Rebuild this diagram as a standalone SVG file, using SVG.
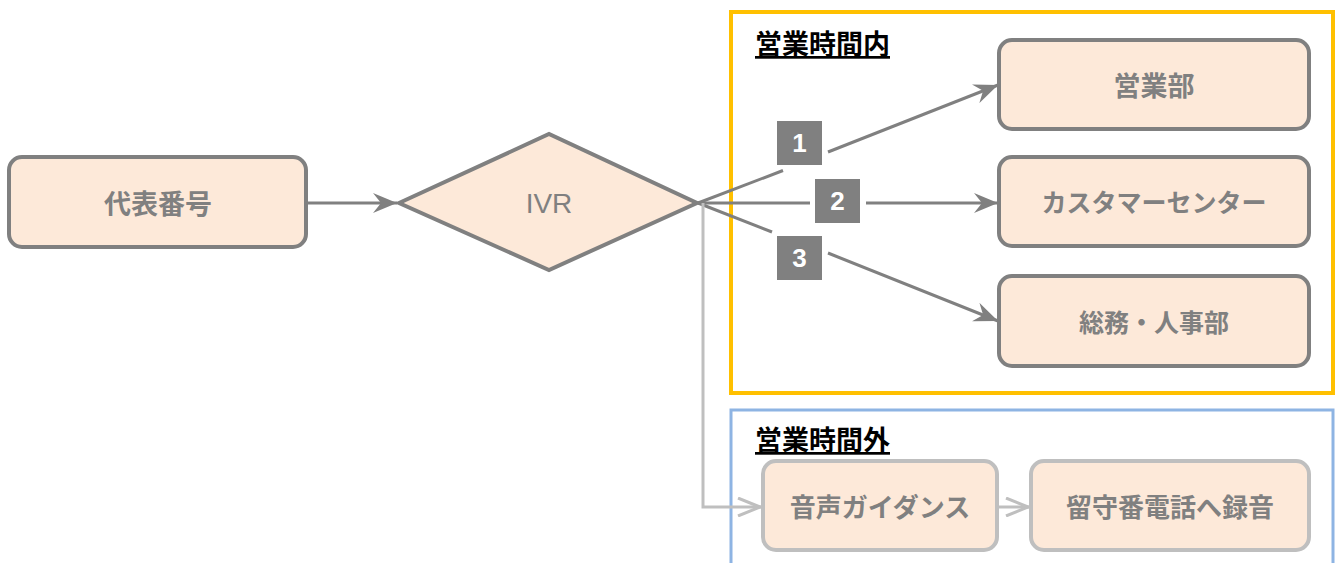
<svg xmlns="http://www.w3.org/2000/svg" width="1340" height="563" viewBox="0 0 1340 563">
<style>
.node{fill:#FDE9D9;stroke:#808080;stroke-width:4}
.node2{fill:#FDE9D9;stroke:#BFBFBF;stroke-width:4}
.t{font-family:"Noto Sans CJK JP","Liberation Sans",sans-serif;font-weight:bold;font-size:25px;fill:#808080;text-anchor:middle;dominant-baseline:central}
.title{font-family:"Noto Sans CJK JP","Liberation Sans",sans-serif;font-weight:bold;font-size:27px;fill:#000;text-decoration:underline}
.c{fill:none;stroke:#808080;stroke-width:3}
.c2{fill:none;stroke:#BFBFBF;stroke-width:3}
.lb{fill:#808080}
.lt{font-family:"Liberation Sans",Arial,sans-serif;font-weight:bold;font-size:26px;fill:#fff;text-anchor:middle;dominant-baseline:central}
</style>
<defs>
<marker id="a" markerWidth="26" markerHeight="20" refX="24" refY="10" orient="auto" markerUnits="userSpaceOnUse">
<path d="M0,0 L24,10 L0,20 L8,10 z" fill="#808080"/>
</marker>
<marker id="a2" markerWidth="26" markerHeight="20" refX="24" refY="10" orient="auto" markerUnits="userSpaceOnUse">
<path d="M1,1 L23,10 L1,19" fill="none" stroke="#BFBFBF" stroke-width="3"/>
</marker>
</defs>
<rect x="731" y="12" width="602" height="381" fill="none" stroke="#FFC000" stroke-width="4"/>
<rect x="731" y="410" width="602" height="160" fill="none" stroke="#8EB4E3" stroke-width="3"/>
<text class="title" x="755" y="54">営業時間内</text>
<text class="title" x="755" y="450">営業時間外</text>
<g id="connectors">
<line class="c" x1="306" y1="203" x2="397" y2="203" marker-end="url(#a)"/>
<line class="c" x1="698" y1="203" x2="783" y2="170.5"/>
<line class="c" x1="828" y1="152" x2="998" y2="85" marker-end="url(#a)"/>
<line class="c" x1="698" y1="203" x2="810" y2="203"/>
<line class="c" x1="866" y1="203" x2="998" y2="203" marker-end="url(#a)"/>
<line class="c" x1="698" y1="203" x2="772" y2="232"/>
<line class="c" x1="828" y1="253" x2="998" y2="321" marker-end="url(#a)"/>
<polyline class="c2" points="703,203 703,507 761,507" marker-end="url(#a2)"/>
<line class="c2" x1="997" y1="507" x2="1029" y2="507" marker-end="url(#a2)"/>
<rect class="lb" x="777" y="121" width="45" height="44"/>
<text class="lt" x="799.5" y="143">1</text>
<rect class="lb" x="815" y="179" width="45" height="44"/>
<text class="lt" x="837.5" y="201">2</text>
<rect class="lb" x="777" y="236" width="45" height="44"/>
<text class="lt" x="799.5" y="258">3</text>
</g>
<g id="n1"><rect class="node" x="9" y="157" width="297" height="90" rx="13"/><text class="t" x="158" y="202" style="font-size:27px">代表番号</text></g>
<g id="ivr"><polygon class="node" points="399,203 549,134 697,203 549,270"/><text class="t" x="549" y="203" style="font-family:'Liberation Sans',Arial,sans-serif;font-weight:normal;font-size:28px">IVR</text></g>
<g id="n2"><rect class="node" x="999" y="40" width="310" height="89" rx="13"/><text class="t" x="1154" y="84" style="font-size:27px">営業部</text></g>
<g id="n3"><rect class="node" x="999" y="157" width="310" height="89" rx="13"/><text class="t" x="1154" y="201">カスタマーセンター</text></g>
<g id="n4"><rect class="node" x="999" y="276" width="310" height="90" rx="13"/><text class="t" x="1154" y="321">総務・人事部</text></g>
<g id="n5"><rect class="node2" x="763" y="461" width="234" height="89" rx="13"/><text class="t" x="880" y="505" style="font-size:26px">音声ガイダンス</text></g>
<g id="n6"><rect class="node2" x="1031" y="461" width="278" height="89" rx="13"/><text class="t" x="1170" y="505" style="font-size:26px">留守番電話へ録音</text></g>
</svg>
